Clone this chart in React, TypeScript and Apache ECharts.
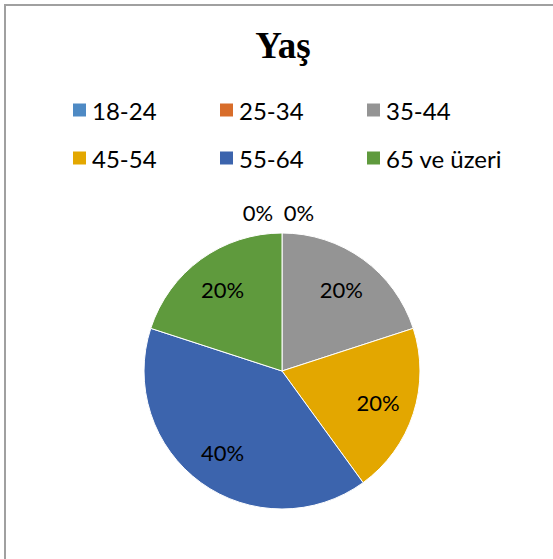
import React, { useEffect, useRef } from "react";
import * as echarts from "echarts";

const categories = ["18-24", "25-34", "35-44", "45-54", "55-64", "65 ve üzeri"];
const values = [0, 0, 1, 1, 2, 1];
const colors = ["#4E8AC4", "#D86D2A", "#949494", "#E3A700", "#3C64AD", "#5F9A3D"];
const titleText = "Yaş";

export default function App() {
  const ref = useRef<HTMLDivElement>(null);
  useEffect(() => {
    if (!ref.current) return;
    const chart = echarts.init(ref.current, null, { renderer: "svg" });
    const data = categories.map((name, i) => ({ name, value: values[i] }));
    const legendText = { fontFamily: "Lato", fontSize: 24, color: "#000" };
    const colLeft = [66, 213, 360];
    const rowTop = [93, 141];
    const legends = categories.map((name, i) => ({
      data: [name],
      left: colLeft[i % 3],
      top: rowTop[Math.floor(i / 3)],
      icon: "rect",
      itemWidth: 15,
      itemHeight: 15,
      itemGap: 0,
      textStyle: legendText,
      selectedMode: false,
    }));
    chart.setOption({
      animation: false,
      color: colors,
      legend: legends,
      graphic: [
        {
          type: "rect",
          shape: { x: 5, y: 5, width: 580, height: 580 },
          style: { fill: "none", stroke: "#A0A0A0", lineWidth: 2 },
          silent: true,
        },
        {
          type: "text",
          x: 283,
          y: 45,
          style: {
            text: titleText,
            font: "bold 37px 'Liberation Serif', 'Times New Roman', serif",
            fill: "#000",
            align: "center",
            verticalAlign: "middle",
          },
        },
      ],
      series: [
        {
          type: "pie",
          center: [282, 371],
          radius: [0, 138],
          startAngle: 90,
          clockwise: true,
          data,
          label: { show: false },
          labelLine: { show: false },
          itemStyle: { borderColor: "#fff", borderWidth: 1 },
          silent: true,
        },
        {
          type: "pie",
          center: [282, 371],
          radius: [58, 138],
          startAngle: 90,
          clockwise: true,
          data,
          silent: true,
          itemStyle: { color: "rgba(0,0,0,0)" },
          emphasis: { disabled: true },
          label: {
            show: true,
            position: "inside",
            formatter: "{d}%",
            fontFamily: "Lato",
            fontSize: 22,
            color: "#000",
          },
          labelLine: { show: false },
          labelLayout: (p: any) => {
            if (p.dataIndex === 0) return { x: 258, y: 212, align: "center", verticalAlign: "middle" };
            if (p.dataIndex === 1) return { x: 299, y: 212, align: "center", verticalAlign: "middle" };
            return {};
          },
        },
      ],
    });
    return () => chart.dispose();
  }, []);
  return (
    <div
      ref={ref}
      style={{ position: "absolute", left: 0, top: 0, width: 553, height: 559, background: "#fff" }}
    />
  );
}
